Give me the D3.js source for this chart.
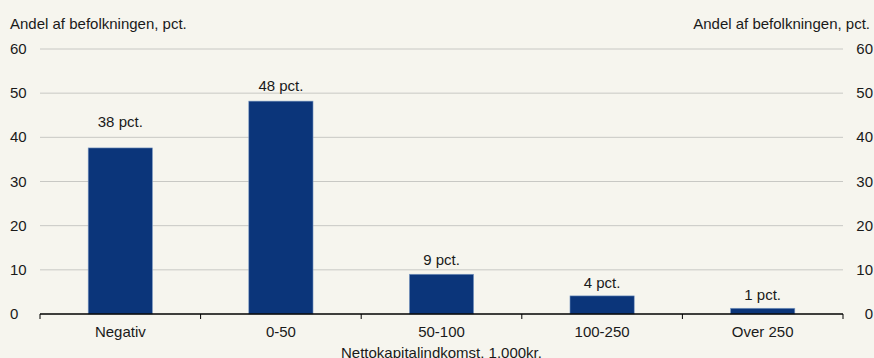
<!DOCTYPE html>
<html><head><meta charset="utf-8">
<script src="https://cdn.jsdelivr.net/npm/d3@7"></script>
<style>
html,body{margin:0;padding:0;background:#f6f5ee;}
svg{display:block;font-family:Arial,"Liberation Sans",sans-serif;}
</style></head>
<body><svg id="chart" width="874" height="358"></svg>
<script>
const categories = ["Negativ", "0-50", "50-100", "100-250", "Over 250"];
const values = [37.6, 48.2, 9.0, 4.1, 1.3];
const valueLabels = ["38 pct.", "48 pct.", "9 pct.", "4 pct.", "1 pct."];
const labelAnchors = [42.3, 50.6, 11.1, 6.0, 3.2];
const yTicks = [0, 10, 20, 30, 40, 50, 60];
const yTitle = "Andel af befolkningen, pct.";
const xTitle = "Nettokapitalindkomst, 1.000kr.";

const W = 874, H = 358;
const m = {left: 40, right: 31, top: 49, bottom: 44};
const svg = d3.select("#chart");
svg.append("rect").attr("width", W).attr("height", H).attr("fill", "#f6f5ee");

const x = d3.scaleBand().domain(categories).range([m.left, W - m.right]).paddingInner(0.6).paddingOuter(0.3);
const y = d3.scaleLinear().domain([0, 60]).range([H - m.bottom, m.top]);

const fs = 15;
const txt = "#1a1a1a";
// gridlines
svg.append("g").selectAll("line").data(yTicks.filter(d => d > 0)).join("line")
  .attr("x1", m.left).attr("x2", W - m.right)
  .attr("y1", d => y(d)).attr("y2", d => y(d))
  .attr("stroke", "#c8c8c4").attr("stroke-width", 1);

// bars
svg.append("g").selectAll("rect").data(values).join("rect")
  .attr("x", (d, i) => x(categories[i]))
  .attr("width", x.bandwidth())
  .attr("y", d => y(d))
  .attr("height", d => y(0) - y(d))
  .attr("fill", "#0b357a")
  .attr("stroke", "#7f9cc4").attr("stroke-width", 0.6);

// value labels
svg.append("g").selectAll("text").data(labelAnchors).join("text")
  .attr("x", (d, i) => x(categories[i]) + x.bandwidth() / 2)
  .attr("y", d => y(d))
  .attr("text-anchor", "middle").attr("font-size", fs).attr("fill", txt)
  .text((d, i) => valueLabels[i]);

// x axis
const xAxis = d3.axisBottom(x).tickSize(0).tickFormat(d => d);
const gx = svg.append("g").attr("transform", `translate(0,${y(0)})`).call(xAxis);
gx.select(".domain").remove();
gx.selectAll("text").attr("font-size", fs).attr("fill", txt).attr("dy", null).attr("y", 23)
  .attr("font-family", "Arial, 'Liberation Sans', sans-serif");
svg.append("line").attr("x1", m.left).attr("x2", W - m.right).attr("y1", y(0)).attr("y2", y(0))
  .attr("stroke", "#000").attr("stroke-width", 1.6);
// boundary ticks
const bounds = d3.range(categories.length + 1).map(i => m.left + i * (W - m.left - m.right) / categories.length);
svg.append("g").selectAll("line").data(bounds).join("line")
  .attr("x1", d => d).attr("x2", d => d).attr("y1", y(0)).attr("y2", y(0) + 5)
  .attr("stroke", "#000").attr("stroke-width", 1);

// y labels left & right
const yl = svg.append("g");
yl.selectAll("text.l").data(yTicks).join("text").attr("class", "l")
  .attr("x", 10).attr("y", d => y(d) + 5).attr("font-size", fs).attr("fill", txt).text(d => d);
yl.selectAll("text.r").data(yTicks).join("text").attr("class", "r")
  .attr("x", 873).attr("y", d => y(d) + 5).attr("text-anchor", "end").attr("font-size", fs).attr("fill", txt).text(d => d);

svg.append("text").attr("x", 10).attr("y", 29).attr("font-size", fs).attr("fill", txt).text(yTitle);
svg.append("text").attr("x", 870).attr("y", 29).attr("text-anchor", "end").attr("font-size", fs).attr("fill", txt).text(yTitle);
svg.append("text").attr("x", (m.left + W - m.right) / 2).attr("y", 358).attr("text-anchor", "middle").attr("font-size", fs).attr("fill", txt).text(xTitle);
</script></body></html>
